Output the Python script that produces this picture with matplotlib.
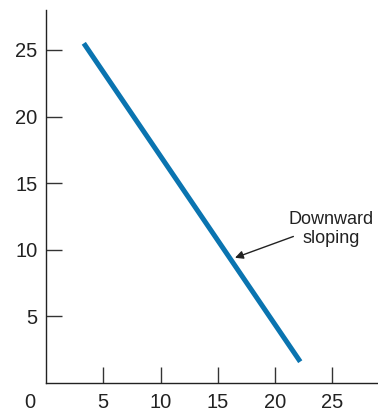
import matplotlib
matplotlib.use("Agg")
from matplotlib import pyplot as plt

plt.rcParams['font.family'] = ['Liberation Sans', 'DejaVu Sans']

# data
line_x = [3.3, 22.2]
line_y = [25.5, 1.6]
x_ticks = [5, 10, 15, 20, 25]
y_ticks = [5, 10, 15, 20, 25]
note_text = "Downward\nsloping"
note_tip = (16.5, 9.4)
note_tail = (21.6, 11.0)
note_pos = (24.9, 11.55)

my_dpi = 100
fig = plt.figure(figsize=(378/my_dpi, 413/my_dpi), dpi=my_dpi, facecolor='w')
ax = fig.add_axes([46/378, 30/413, 331/378, 373/413])

ax.plot(line_x, line_y, color='#0a74b0', linewidth=3.6, solid_capstyle='butt')

ax.set_xlim(0, 28.9)
ax.set_ylim(0, 28)
ax.spines['top'].set_visible(False)
ax.spines['right'].set_visible(False)
for s in ['left', 'bottom']:
    ax.spines[s].set_linewidth(1.0)
    ax.spines[s].set_color('#222222')

ax.set_xticks(x_ticks)
ax.set_yticks(y_ticks)
ax.tick_params(direction='in', length=11.5, width=1.0, color='#333333',
               labelsize=14.5, labelcolor='#222222')
ax.tick_params(axis='x', pad=7)
ax.tick_params(axis='y', pad=6)

# lone zero at the corner
ax.text(-1.45, -1.45, "0", ha='center', va='center', fontsize=14.5,
        color='#222222', clip_on=False)

ax.text(note_pos[0], note_pos[1], note_text, ha='center', va='center',
        fontsize=13, color='#222222', linespacing=1.2)
ax.annotate("", xy=note_tip, xytext=note_tail,
            arrowprops=dict(arrowstyle='-|>', color='#222222', lw=1.0,
                            shrinkA=0, shrinkB=0, mutation_scale=12))

plt.savefig("out.png", dpi=my_dpi)
